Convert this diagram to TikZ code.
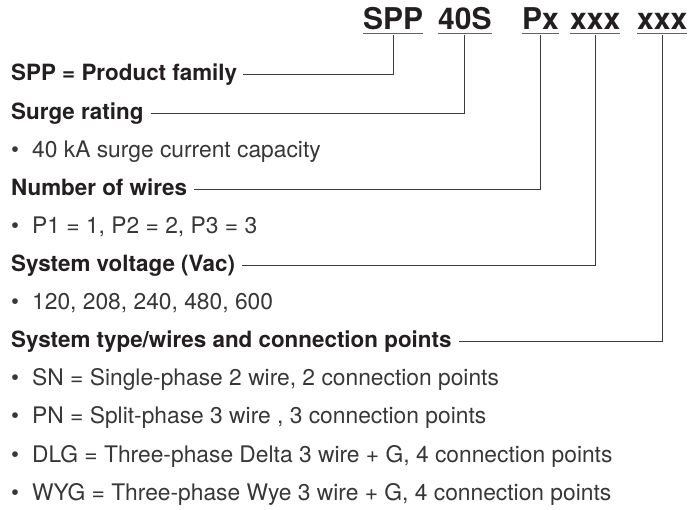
\documentclass[tikz,border=0pt]{standalone}
\usepackage{fontspec}
\setmainfont{TeX Gyre Heros}
\usepackage{xcolor}
\definecolor{inkDark}{RGB}{35,31,32}
\definecolor{inkBody}{RGB}{55,55,55}
\definecolor{inkLine}{RGB}{60,60,60}
\usepackage{tikz}

\begin{document}
\begin{tikzpicture}[x=1pt, y=-1pt,
  codetxt/.style={inner sep=0, anchor=base west, text=inkDark, font=\fontsize{30}{34}\selectfont\bfseries},
  headtxt/.style={inner sep=0, anchor=base west, text=inkDark, font=\fontsize{22.4}{26}\selectfont\bfseries},
  itemtxt/.style={inner sep=0, anchor=base west, text=inkBody, font=\fontsize{22.8}{26}\selectfont},
  uline/.style={line width=1.5pt, draw=inkLine!80},
  leader/.style={line width=0.9pt, draw=inkLine}]
\useasboundingbox (0,0) rectangle (698,510);
\node[codetxt] (spp) at (363,30) {SPP};
\node[codetxt] (rate) at (438,30) {40S};
\node[codetxt] (wire) at (522,30) {Px};
\node[codetxt] (volt) at (570,30) {xxx};
\node[codetxt] (type) at (637,30) {xxx};
\foreach \p in {spp,rate,wire,volt,type}
  \draw[uline] ([yshift=-3.5pt]\p.base west) -- ([yshift=-3.5pt]\p.base east);

\node[headtxt] (famlbl) at (11,81) {SPP = Product family};
\node[headtxt] (ratelbl) at (11,119.1) {Surge rating};
\node[itemtxt] (rateitem) at (11,157.2) {\textbullet\hspace{13pt}40 kA surge current capacity};
\node[headtxt] (wirelbl) at (11,195.3) {Number of wires};
\node[itemtxt] (wireitem) at (11,233.4) {\textbullet\hspace{13pt}P1 = 1, P2 = 2, P3 = 3};
\node[headtxt] (voltlbl) at (11,271.5) {System voltage (Vac)};
\node[itemtxt] (voltitem) at (11,309.6) {\textbullet\hspace{13pt}120, 208, 240, 480, 600};
\node[headtxt] (typelbl) at (11,347.7) {System type/wires and connection points};
\node[itemtxt] (sn) at (11,385.8) {\textbullet\hspace{13pt}SN = Single-phase 2 wire, 2 connection points};
\node[itemtxt] (pn) at (11,423.9) {\textbullet\hspace{13pt}PN = Split-phase 3 wire , 3 connection points};
\node[itemtxt] (dlg) at (11,462) {\textbullet\hspace{13pt}DLG = Three-phase Delta 3 wire + G, 4 connection points};
\node[itemtxt] (wyg) at (11,500.1) {\textbullet\hspace{13pt}WYG = Three-phase Wye 3 wire + G, 4 connection points};

\draw[leader] ([xshift=6pt,yshift=7pt]famlbl.base east) -| ([yshift=-5pt]spp.base);
\draw[leader] ([xshift=7pt,yshift=6pt]ratelbl.base east) -| ([yshift=-5pt]rate.base);
\draw[leader] ([xshift=7pt,yshift=6pt]wirelbl.base east) -| ([yshift=-5pt]wire.base);
\draw[leader] ([xshift=7pt,yshift=6pt]voltlbl.base east) -| ([yshift=-5pt]volt.base);
\draw[leader] ([xshift=7pt,yshift=6pt]typelbl.base east) -| ([yshift=-5pt]type.base);
\end{tikzpicture}
\end{document}
